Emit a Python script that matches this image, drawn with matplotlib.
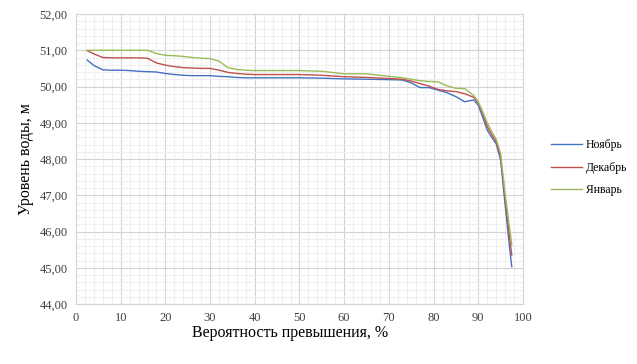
import numpy as np
import matplotlib
matplotlib.use("Agg")
import matplotlib.pyplot as plt
from matplotlib.ticker import MultipleLocator, FuncFormatter

plt.rcParams["font.family"] = ["Liberation Serif", "DejaVu Serif"]

# Probability of exceedance, %
x = [2.5, 4, 6, 8, 10, 12, 14, 16, 18, 20, 22, 24, 26, 28, 30, 32, 34, 36, 38,
     40, 45, 50, 55, 60, 65, 70, 73, 75, 77, 79, 81, 83, 85, 87, 89, 90, 91,
     92, 93, 94, 95, 96, 97, 97.5]

# Water level, m
nov = [50.73, 50.58, 50.46, 50.45, 50.45, 50.44, 50.42, 50.41, 50.40, 50.36,
       50.33, 50.31, 50.30, 50.30, 50.30, 50.28, 50.27, 50.25, 50.24, 50.24,
       50.24, 50.24, 50.23, 50.21, 50.20, 50.19, 50.18, 50.10, 49.97, 49.97,
       49.90, 49.83, 49.72, 49.58, 49.63, 49.48, 49.15, 48.80, 48.60, 48.42,
       47.97, 46.75, 45.55, 45.03]
dec = [50.99, 50.90, 50.80, 50.79, 50.79, 50.79, 50.79, 50.78, 50.65, 50.59,
       50.55, 50.52, 50.51, 50.50, 50.50, 50.45, 50.39, 50.36, 50.34, 50.33,
       50.33, 50.33, 50.31, 50.27, 50.25, 50.22, 50.20, 50.15, 50.08, 50.01,
       49.92, 49.88, 49.86, 49.80, 49.70, 49.55, 49.25, 48.90, 48.68, 48.48,
       48.05, 46.90, 45.85, 45.35]
jan = [51.00, 51.00, 51.00, 51.00, 51.00, 51.00, 51.00, 51.00, 50.91, 50.86,
       50.85, 50.83, 50.80, 50.78, 50.77, 50.70, 50.52, 50.47, 50.45, 50.44,
       50.44, 50.44, 50.42, 50.35, 50.35, 50.28, 50.24, 50.20, 50.16, 50.14,
       50.13, 50.02, 49.95, 49.94, 49.75, 49.58, 49.30, 49.00, 48.75, 48.55,
       48.15, 47.05, 46.10, 45.63]

series = [("Ноябрь", nov, "#4472C4"),
          ("Декабрь", dec, "#C0504D"),
          ("Январь", jan, "#9BBB59")]

fig = plt.figure(figsize=(6.37, 3.64), dpi=100)
ax = fig.add_axes([0.1193, 0.1648, 0.7017, 0.7967])

for name, vals, color in series:
    ax.plot(x, vals, color=color, linewidth=1.0, label=name, zorder=5)

ax.set_xlim(0, 100)
ax.set_ylim(44, 52)
ax.xaxis.set_major_locator(MultipleLocator(10))
ax.xaxis.set_minor_locator(MultipleLocator(2))
ax.yaxis.set_major_locator(MultipleLocator(1))
ax.yaxis.set_minor_locator(MultipleLocator(0.2))
ax.yaxis.set_major_formatter(FuncFormatter(lambda v, _: f"{v:.2f}".replace(".", ",")))

ax.grid(True, which="major", color="#d4d4d4", linewidth=0.8)
ax.grid(True, which="minor", color="#efefef", linewidth=0.8)
ax.set_axisbelow(True)
ax.tick_params(which="both", length=0, labelsize=9, colors="#404040", pad=6)
for s in ax.spines.values():
    s.set_color("#d4d4d4")
    s.set_linewidth(0.8)

ax.set_xlabel("Вероятность превышения, %", fontsize=11.5, labelpad=2)
ax.xaxis.set_label_coords(0.479, -0.072)
ax.set_ylabel("Уровень воды, м", fontsize=11.5, labelpad=4)

ax.legend(loc="center left", bbox_to_anchor=(1.04, 0.47), frameon=False,
          fontsize=8.5, handlelength=2.6, handletextpad=0.3, labelspacing=0.9)

fig.savefig("out.png", dpi=100)
